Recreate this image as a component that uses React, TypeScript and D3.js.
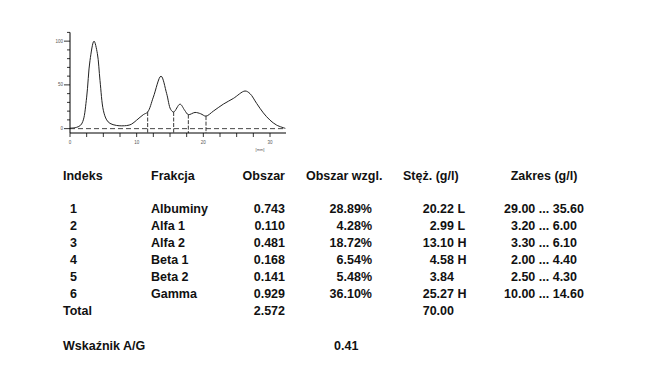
import React, { useEffect } from 'react';
import * as d3 from 'd3';

// densitogram points: [position mm, relative height]
const curvePos = [0, 1, 1.6, 2.0, 2.5, 3.0, 3.6, 4.1, 4.5, 5.0, 5.5, 6.0, 7.0, 8.5, 9.2, 10, 11, 11.65, 12.5, 13.65, 14.5, 15.1, 15.55, 16.5, 17.2, 17.75, 18.75, 19.6, 20.4, 21.5, 23, 24.5, 26.25, 27, 28, 29, 30, 31, 32.3];
const curveVal = [0.5, 1.5, 4, 10, 36, 78, 100, 86, 55, 21, 10, 6, 3.6, 3.5, 5, 9.7, 16, 19, 36, 60, 40, 22, 19, 28, 21, 16, 18.5, 17, 14.3, 20, 28, 34.5, 43, 40, 28.8, 18, 9.7, 4, 0.3];
const dividers = [11.65, 15.55, 17.75, 20.4];

const xTickLabels = [0, 10, 20, 30];
const yTickLabels = [0, 50, 100];

const indexes = ['1', '2', '3', '4', '5', '6'];
const fractions = ['Albuminy', 'Alfa 1', 'Alfa 2', 'Beta 1', 'Beta 2', 'Gamma'];
const areas = ['0.743', '0.110', '0.481', '0.168', '0.141', '0.929'];
const relAreas = ['28.89%', '4.28%', '18.72%', '6.54%', '5.48%', '36.10%'];
const concs = ['20.22', '2.99', '13.10', '4.58', '3.84', '25.27'];
const flags = ['L', 'L', 'H', 'H', '', 'H'];
const ranges = ['29.00 ... 35.60', '3.20 ... 6.00', '3.30 ... 6.10', '2.00 ... 4.40', '2.50 ... 4.30', '10.00 ... 14.60'];
const headers = ['Indeks', 'Frakcja', 'Obszar', 'Obszar wzgl.', 'Stęż. (g/l)', 'Zakres (g/l)'];
const totalArea = '2.572';
const totalConc = '70.00';
const agRatio = '0.41';

export default function App() {
  useEffect(() => {
    document.body.style.margin = '0';
  }, []);

  const x = d3.scaleLinear().domain([0, 32.4]).range([70, 286]);
  const y = d3.scaleLinear().domain([-5, 110]).range([133, 32.4]);

  const pts: [number, number][] = curvePos.map((p, i) => [p, curveVal[i]]);
  const line = d3.line<[number, number]>()
    .x(d => x(d[0]))
    .y(d => y(d[1]))
    .curve(d3.curveCatmullRom.alpha(0.5));
  // value along the curve for divider tops
  const interp = (p: number) => {
    const i = d3.bisector((d: number) => d).left(curvePos, p);
    if (curvePos[i] === p) return curveVal[i];
    const t = (p - curvePos[i - 1]) / (curvePos[i] - curvePos[i - 1]);
    return curveVal[i - 1] + t * (curveVal[i] - curveVal[i - 1]);
  };

  const xMinor = d3.range(0, 32.4, 2.5);
  const yMinor = d3.range(0, 111, 10);

  const font = '"Liberation Sans", Arial, Helvetica, sans-serif';
  const rowY = (i: number) => 212.5 + i * 17;

  return (
    <svg width={650} height={366} style={{ display: 'block', background: '#fff' }} fontFamily={font}>
      {/* chart */}
      <g>
        <line x1={x(0)} x2={x(32.4)} y1={y(0)} y2={y(0)} stroke="#333" strokeWidth={0.9} strokeDasharray="5,3" />
        {dividers.map(p => (
          <line key={p} x1={x(p)} x2={x(p)} y1={y(interp(p))} y2={y(-5)} stroke="#222" strokeWidth={0.9} strokeDasharray="4,1.5" />
        ))}
        <path d={line(pts) || ''} fill="none" stroke="#222" strokeWidth={1} />
        <line x1={x(0)} x2={x(32.4)} y1={y(-5)} y2={y(-5)} stroke="#000" strokeWidth={1} />
        <line x1={x(0)} x2={x(0)} y1={y(-5)} y2={y(110)} stroke="#000" strokeWidth={1} />
        {xMinor.map(t => (
          <line key={t} x1={x(t)} x2={x(t)} y1={y(-5)} y2={y(-5) + 4} stroke="#000" strokeWidth={0.8} />
        ))}
        {xTickLabels.map(t => (
          <text key={t} x={x(t)} y={y(-5) + 11} fontSize={4.5} fill="#555" textAnchor="middle">{t}</text>
        ))}
        {yMinor.map(t => (
          <line key={t} x1={x(0) - (t % 50 === 0 ? 6 : 3)} x2={x(0)} y1={y(t)} y2={y(t)} stroke="#000" strokeWidth={0.8} />
        ))}
        {yTickLabels.map(t => (
          <text key={t} x={x(0) - 7} y={y(t) + 1.5} fontSize={4.5} fill="#555" textAnchor="end">{t}</text>
        ))}
        <text x={x(28.5)} y={150.5} fontSize={4} fill="#555" textAnchor="middle">[mm]</text>
      </g>

      {/* table */}
      <g fontSize={12.5} fontWeight="bold" fill="#111">
        <text x={63} y={179.5}>{headers[0]}</text>
        <text x={151} y={179.5}>{headers[1]}</text>
        <text x={285} y={179.5} textAnchor="end">{headers[2]}</text>
        <text x={306} y={179.5}>{headers[3]}</text>
        <text x={403} y={179.5}>{headers[4]}</text>
        <text x={544} y={179.5} textAnchor="middle">{headers[5]}</text>
        {indexes.map((idx, i) => (
          <g key={idx}>
            <text x={70} y={rowY(i)}>{idx}</text>
            <text x={151} y={rowY(i)}>{fractions[i]}</text>
            <text x={285} y={rowY(i)} textAnchor="end">{areas[i]}</text>
            <text x={372} y={rowY(i)} textAnchor="end">{relAreas[i]}</text>
            <text x={454} y={rowY(i)} textAnchor="end">{concs[i]}</text>
            <text x={457.5} y={rowY(i)}>{flags[i]}</text>
            <text x={544} y={rowY(i)} textAnchor="middle">{ranges[i]}</text>
          </g>
        ))}
        <text x={63} y={rowY(6)}>Total</text>
        <text x={285} y={rowY(6)} textAnchor="end">{totalArea}</text>
        <text x={454} y={rowY(6)} textAnchor="end">{totalConc}</text>
        <text x={63} y={349.5}>Wskaźnik A/G</text>
        <text x={334} y={349.5}>{agRatio}</text>
      </g>
    </svg>
  );
}
